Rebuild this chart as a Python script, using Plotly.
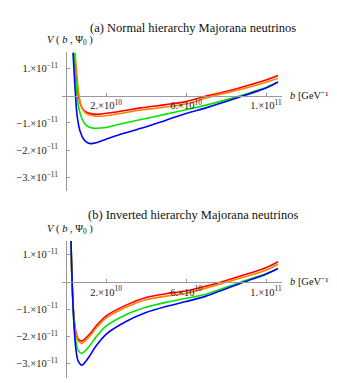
import plotly.graph_objects as go

# b in units of 1e10 GeV^-1, V in units of 1e-11
# --- (a) Normal hierarchy ---
b_a_red = [0.42, 0.5, 0.62, 0.8, 1.0, 1.3, 1.67, 2.5, 3.75, 5.0, 6.0, 7.1, 8.0, 9.0, 10.0, 10.6]
v_a_red = [1.57, 0.9, 0.0, -0.45, -0.6, -0.67, -0.68, -0.6, -0.45, -0.33, -0.22, 0.0, 0.15, 0.35, 0.57, 0.74]
b_a_orange = [0.45, 0.55, 0.65, 0.8, 1.0, 1.3, 1.67, 2.5, 3.75, 5.0, 6.0, 7.4, 8.0, 9.0, 10.0, 10.6]
v_a_orange = [1.57, 0.7, 0.0, -0.45, -0.65, -0.73, -0.76, -0.68, -0.53, -0.42, -0.31, 0.0, 0.1, 0.28, 0.49, 0.64]
b_a_green = [0.4, 0.5, 0.6, 0.8, 1.0, 1.25, 1.5, 2.0, 2.5, 3.75, 5.0, 6.0, 7.0, 8.75, 9.5, 10.0, 10.6]
v_a_green = [1.57, 0.5, -0.3, -0.85, -1.08, -1.18, -1.2, -1.17, -1.08, -0.88, -0.68, -0.52, -0.35, 0.0, 0.18, 0.3, 0.5]
b_a_blue = [0.35, 0.45, 0.55, 0.7, 0.9, 1.1, 1.25, 1.5, 2.0, 2.5, 3.75, 5.0, 6.0, 7.0, 8.0, 8.9, 10.0, 10.6]
v_a_blue = [1.57, 0.3, -0.7, -1.3, -1.62, -1.74, -1.76, -1.73, -1.6, -1.47, -1.2, -0.9, -0.66, -0.45, -0.22, 0.0, 0.28, 0.5]

# --- (b) Inverted hierarchy ---
b_b_red = [0.25, 0.3, 0.4, 0.5, 0.6, 0.78, 1.0, 1.2, 1.5, 2.0, 3.0, 4.0, 5.0, 6.0, 7.75, 9.0, 10.0, 10.6]
v_b_red = [1.5, 0.0, -1.3, -1.85, -2.08, -2.17, -2.05, -1.9, -1.62, -1.25, -0.85, -0.57, -0.43, -0.33, 0.0, 0.28, 0.52, 0.74]
b_b_orange = [0.25, 0.3, 0.4, 0.5, 0.6, 0.78, 1.0, 1.2, 1.5, 2.0, 3.0, 4.0, 5.0, 6.0, 8.05, 9.0, 10.0, 10.6]
v_b_orange = [1.5, 0.0, -1.35, -1.92, -2.15, -2.25, -2.13, -1.98, -1.7, -1.33, -0.93, -0.65, -0.52, -0.42, 0.0, 0.2, 0.43, 0.65]
b_b_green = [0.25, 0.3, 0.4, 0.5, 0.6, 0.78, 1.0, 1.2, 1.5, 2.0, 3.0, 4.0, 5.0, 6.0, 7.0, 8.75, 10.0, 10.6]
v_b_green = [1.5, 0.1, -1.5, -2.2, -2.5, -2.62, -2.5, -2.32, -2.02, -1.62, -1.2, -0.93, -0.75, -0.6, -0.45, 0.0, 0.3, 0.49]
b_b_blue = [0.25, 0.3, 0.4, 0.5, 0.6, 0.8, 1.0, 1.2, 1.5, 2.0, 3.0, 4.0, 5.0, 6.0, 7.0, 8.9, 10.0, 10.6]
v_b_blue = [1.5, 0.2, -1.6, -2.5, -2.88, -3.05, -2.9, -2.69, -2.35, -1.92, -1.45, -1.12, -0.9, -0.72, -0.52, 0.0, 0.28, 0.49]

colors = ["#ff0000", "#ff8000", "#00e600", "#0000ff"]

x_tickvals = [2, 6, 10]
x_ticktext = ["2.×10<sup>10</sup>", "6.×10<sup>10</sup>", "1.×10<sup>11</sup>"]
y_tickvals = [1, -1, -2, -3]
y_ticktext = ["1.×10<sup>−11</sup>", "−1.×10<sup>−11</sup>", "−2.×10<sup>−11</sup>", "−3.×10<sup>−11</sup>"]

W, H = 337, 383
FONT = "Liberation Serif"
AXIS_COL = "#999999"

x_range = [-0.2, 10.8]
x_dom = [54 / W, 274 / W]
panels = [
    dict(title="(a) Normal hierarchy Majorana neutrinos",
         xs=[b_a_red, b_a_orange, b_a_green, b_a_blue],
         ys=[v_a_red, v_a_orange, v_a_green, v_a_blue],
         y_range=[-3.5, 1.6], top=44, bottom=183, title_y=20, vlab_y=33),
    dict(title="(b) Inverted hierarchy Majorana neutrinos",
         xs=[b_b_red, b_b_orange, b_b_green, b_b_blue],
         ys=[v_b_red, v_b_orange, v_b_green, v_b_blue],
         y_range=[-3.52, 1.5], top=233, bottom=370, title_y=207, vlab_y=221),
]

fig = go.Figure()
annotations = []
x0_frac = x_dom[0] + (0 - x_range[0]) / (x_range[1] - x_range[0]) * (x_dom[1] - x_dom[0])

for i, p in enumerate(panels):
    n = "" if i == 0 else str(i + 1)
    y_dom = [1 - p["bottom"] / H, 1 - p["top"] / H]
    yr = p["y_range"]
    y0_frac = y_dom[0] + (0 - yr[0]) / (yr[1] - yr[0]) * (y_dom[1] - y_dom[0])

    for xs, ys, c in zip(p["xs"], p["ys"], colors):
        fig.add_trace(go.Scatter(x=xs, y=ys, mode="lines", line=dict(color=c, width=1.6, shape="spline", smoothing=0.8),
                                 xaxis="x" + n, yaxis="y" + n, showlegend=False, cliponaxis=True))

    fig.layout["xaxis" + n] = dict(domain=x_dom, range=x_range, anchor="free", position=y0_frac,
                                   showgrid=False, zeroline=False, showline=True, linecolor=AXIS_COL, linewidth=1,
                                   ticks="inside", ticklen=3, tickcolor=AXIS_COL, tickvals=x_tickvals,
                                   ticktext=x_ticktext, tickfont=dict(family=FONT, size=10.5, color="#222"))
    fig.layout["yaxis" + n] = dict(domain=y_dom, range=yr, anchor="free", position=x0_frac,
                                   showgrid=False, zeroline=False, showline=True, linecolor=AXIS_COL, linewidth=1,
                                   ticks="inside", ticklen=3, tickcolor=AXIS_COL, tickvals=y_tickvals,
                                   ticktext=y_ticktext, ticklabelstandoff=6,
                                   tickfont=dict(family=FONT, size=10.5, color="#222"))

    annotations.append(dict(text=p["title"], x=185 / W, y=1 - p["title_y"] / H, xref="paper", yref="paper",
                            showarrow=False, xanchor="center", yanchor="middle",
                            font=dict(family=FONT, size=12.5, color="#111")))
    annotations.append(dict(text="<i>V</i> ( <i>b</i> , Ψ<sub>0</sub> )", x=37 / W, y=1 - p["vlab_y"] / H,
                            xref="paper", yref="paper", showarrow=False, xanchor="left", yanchor="middle",
                            font=dict(family=FONT, size=10.5, color="#111")))
    annotations.append(dict(text="<i>b</i> [GeV⁻¹]", x=326 / W, y=y0_frac,
                            xref="paper", yref="paper", showarrow=False, xanchor="right", yanchor="middle",
                            font=dict(family=FONT, size=10.5, color="#111")))

fig.update_layout(width=W, height=H, margin=dict(l=0, r=0, t=0, b=0),
                  paper_bgcolor="white", plot_bgcolor="white", annotations=annotations)

fig.write_html("out.html")
